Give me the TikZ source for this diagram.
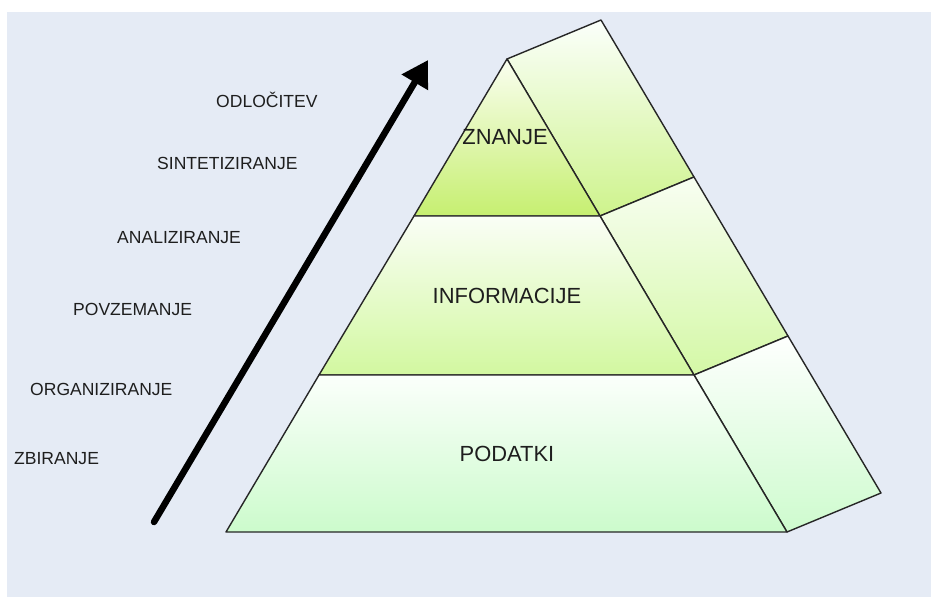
\documentclass[tikz,border=0pt]{standalone}
\usepackage{fontspec}
\setmainfont{Liberation Sans}
\usetikzlibrary{arrows.meta}

\definecolor{pagebg}{HTML}{E5EBF5}
\definecolor{edge}{HTML}{262626}
\definecolor{ink}{HTML}{1E1E1E}

\tikzset{
  face/.style={draw=edge, line width=1.4bp, line join=round, shading=axis, shading angle=0},
  layer/.style={font=\fontsize{22}{26}\selectfont, text=ink, inner sep=0pt, text height=15.5bp, text depth=0pt},
  step label/.style={font=\fontsize{17.6}{20}\selectfont, text=ink, inner sep=0pt, anchor=west, text height=12.6bp, text depth=0pt},
  rise/.style={line width=6.5bp, line cap=round, draw=black, -{Triangle[length=26bp, width=29bp]}}
}

\begin{document}
\begin{tikzpicture}[x=1bp, y=-1bp]
  % canvas
  \useasboundingbox (0,0) rectangle (931,597);
  \fill[white] (0,0) rectangle (931,597);
  \fill[pagebg] (7,12) rectangle (931,597);

  % front corners
  \coordinate (apex) at (507,59);
  \coordinate (zl) at (414,216);
  \coordinate (zr) at (600,216);
  \coordinate (il) at (319,375);
  \coordinate (ir) at (694,375);
  \coordinate (bl) at (226,532);
  \coordinate (br) at (787,532);
  % back corners (depth offset)
  \coordinate (apexb) at (601,20);
  \coordinate (zrb) at (694,177);
  \coordinate (irb) at (788,336);
  \coordinate (brb) at (881,493);

  % side faces
  \shade[face, top color=white!92!green!20, bottom color={rgb,255:red,206;green,243;blue,140}]
    (apex) -- (apexb) -- (zrb) -- (zr) -- cycle;
  \shade[face, top color={rgb,255:red,248;green,254;blue,242}, bottom color={rgb,255:red,212;green,248;blue,166}]
    (zr) -- (zrb) -- (irb) -- (ir) -- cycle;
  \shade[face, top color={rgb,255:red,254;green,255;blue,254}, bottom color={rgb,255:red,206;green,251;blue,206}]
    (ir) -- (irb) -- (brb) -- (br) -- cycle;

  % front faces
  \shade[face, top color={rgb,255:red,250;green,254;blue,240}, bottom color={rgb,255:red,198;green,239;blue,112}]
    (apex) -- (zr) -- (zl) -- cycle;
  \shade[face, top color={rgb,255:red,250;green,254;blue,246}, bottom color={rgb,255:red,210;green,248;blue,160}]
    (zl) -- (zr) -- (ir) -- (il) -- cycle;
  \shade[face, top color={rgb,255:red,251;green,255;blue,251}, bottom color={rgb,255:red,204;green,251;blue,204}]
    (il) -- (ir) -- (br) -- (bl) -- cycle;

  % layer names
  \node[layer] (znanje) at (505,137) {ZNANJE};
  \node[layer] (informacije) at (507,296) {INFORMACIJE};
  \node[layer] (podatki) at (507,454) {PODATKI};

  % process steps
  \node[step label] (odl) at (216,101) {ODLOČITEV};
  \node[step label] (sint) at (157,163) {SINTETIZIRANJE};
  \node[step label] (anal) at (117,237) {ANALIZIRANJE};
  \node[step label] (povz) at (73,309) {POVZEMANJE};
  \node[step label] (org) at (30,389) {ORGANIZIRANJE};
  \node[step label] (zbir) at (14,458) {ZBIRANJE};

  % upward arrow
  \coordinate (tail) at (154,522);
  \coordinate (tip) at (428,60);
  \draw[rise] (tail) -- (tip);
\end{tikzpicture}
\end{document}
